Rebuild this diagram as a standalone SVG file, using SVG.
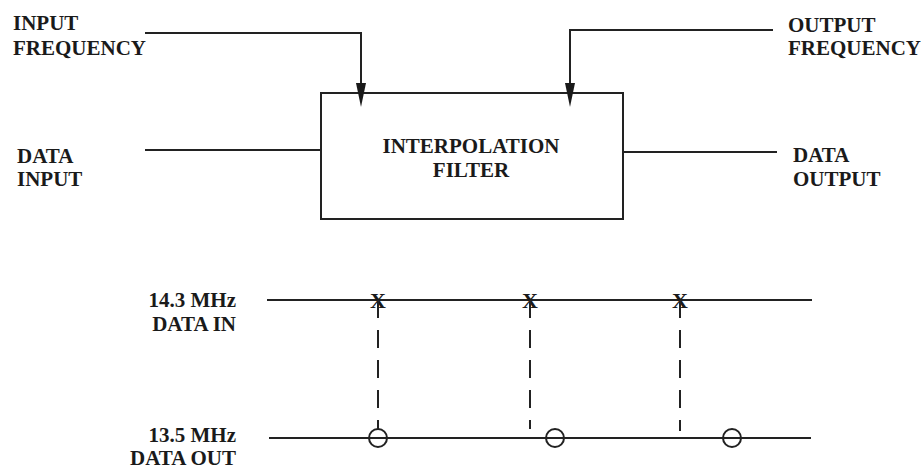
<svg xmlns="http://www.w3.org/2000/svg" width="921" height="469" viewBox="0 0 921 469">
<style>
text{font-family:"Liberation Serif","Times New Roman",serif;font-weight:bold;font-size:21px;fill:#1a1a1a}
.ln{stroke:#222;stroke-width:2;fill:none}
.dash{stroke:#222;stroke-width:2;fill:none;stroke-dasharray:18 12}
.mid{text-anchor:middle}
.end{text-anchor:end}
.x{font-size:22px;text-anchor:middle}
</style>
<rect width="921" height="469" fill="#fff"/>
<g id="filter">
<rect x="321" y="93" width="302" height="126" class="ln"/>
<text x="471" y="153" class="mid">INTERPOLATION</text>
<text x="471" y="177" class="mid">FILTER</text>
</g>
<g id="input-frequency"><text x="13" y="30">INPUT</text><text x="13" y="55">FREQUENCY</text></g>
<g id="data-input"><text x="17" y="163">DATA</text><text x="17" y="186">INPUT</text></g>
<g id="output-frequency"><text x="788" y="32">OUTPUT</text><text x="788" y="55">FREQUENCY</text></g>
<g id="data-output"><text x="793" y="162">DATA</text><text x="793" y="186">OUTPUT</text></g>
<g id="timing-labels">
<text x="236" y="307" class="end">14.3 MHz</text>
<text x="236" y="331" class="end">DATA IN</text>
<text x="236" y="442" class="end">13.5 MHz</text>
<text x="236" y="465" class="end">DATA OUT</text>
</g>
<g id="connectors">
<path d="M145,33 H361 V83" class="ln"/>
<path d="M361,83 L356,83 L361,107 L366,83 Z" fill="#1a1a1a"/>
<path d="M773,30 H570 V83" class="ln"/>
<path d="M570,83 L565,83 L570,107 L575,83 Z" fill="#1a1a1a"/>
<path d="M145,150 H321" class="ln"/>
<path d="M623,152 H777" class="ln"/>
</g>
<g id="timing">
<path d="M267,300 H812" class="ln"/>
<path d="M269,438 H811" class="ln"/>
<text x="378" y="308" class="x">X</text>
<text x="530" y="308" class="x">X</text>
<text x="680" y="308" class="x">X</text>
<path d="M378,300 V429" class="dash"/>
<path d="M530,300 V429" class="dash"/>
<path d="M680,300 V431" class="dash"/>
<circle cx="378" cy="438" r="9" class="ln" fill="#fff"/>
<circle cx="555" cy="438" r="9" class="ln" fill="#fff"/>
<circle cx="732" cy="438" r="9" class="ln" fill="#fff"/>
</g>
</svg>
